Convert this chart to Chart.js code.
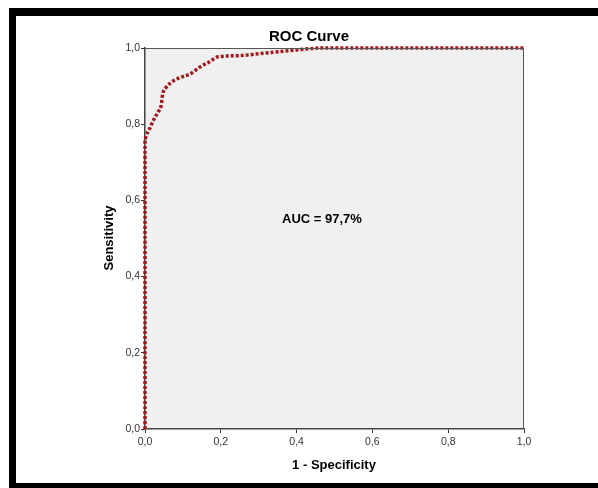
<!DOCTYPE html>
<html><head><meta charset="utf-8">
<script src="https://cdn.jsdelivr.net/npm/chart.js@4/dist/chart.umd.min.js"></script>
<style>html,body{margin:0;padding:0;background:#fff}canvas{display:block}</style>
</head><body>
<canvas id="c" width="598" height="488"></canvas>
<script>
const specificityComplement = [0, 0, 0.003, 0.013, 0.022, 0.035, 0.042, 0.047, 0.057, 0.079, 0.1, 0.119, 0.145, 0.172, 0.193, 0.25, 0.3, 0.35, 0.4, 0.47, 1.0];
const sensitivity =           [0, 0.76, 0.77, 0.79, 0.81, 0.833, 0.846, 0.88, 0.898, 0.916, 0.925, 0.932, 0.95, 0.965, 0.977, 0.98, 0.985, 0.99, 0.995, 1.0, 1.0];
const tickValues = [0, 0.2, 0.4, 0.6, 0.8, 1.0];
const titleText = 'ROC Curve';
const xTitle = '1 - Specificity';
const yTitle = 'Sensitivity';
const aucText = 'AUC = 97,7%';
const aucPos = {x: 0.467, y: 0.549};

const fmt = v => (Math.round(v*10)/10).toFixed(1).replace('.', ',');
const FONT = '"Liberation Sans", Arial, sans-serif';

const decor = {
  id: 'decor',
  beforeDraw(chart) {
    const {ctx, chartArea: a} = chart;
    ctx.save();
    ctx.fillStyle = '#fff';
    ctx.fillRect(0, 0, chart.width, chart.height);
    ctx.fillStyle = '#f0f0f0';
    ctx.fillRect(a.left, a.top, a.right - a.left, a.bottom - a.top);
    ctx.restore();
  },
  afterDraw(chart) {
    const {ctx, chartArea: a, scales} = chart;
    ctx.save();
    ctx.strokeStyle = '#555';
    ctx.lineWidth = 1;
    ctx.beginPath();
    ctx.moveTo(a.left, a.top + 0.5); ctx.lineTo(a.right - 0.5, a.top + 0.5); ctx.lineTo(a.right - 0.5, a.bottom);
    ctx.stroke();
    // frame
    ctx.fillStyle = '#000';
    ctx.fillRect(9, 8, 589, 8);
    ctx.fillRect(9, 8, 7, 480);
    ctx.fillRect(9, 483, 589, 5);
    ctx.fillStyle = '#000';
    ctx.textAlign = 'center';
    ctx.textBaseline = 'middle';
    ctx.font = 'bold 15px ' + FONT;
    ctx.fillText(titleText, 309, 37);
    ctx.font = 'bold 13px ' + FONT;
    ctx.fillText(xTitle, 334, 465);
    ctx.fillText(aucText, scales.x.getPixelForValue(aucPos.x), scales.y.getPixelForValue(aucPos.y));
    ctx.translate(109, 238);
    ctx.rotate(-Math.PI / 2);
    ctx.fillText(yTitle, 0, 0);
    ctx.restore();
  }
};

new Chart(document.getElementById('c'), {
  type: 'scatter',
  data: {
    datasets: [{
      data: specificityComplement.map((x, i) => ({x, y: sensitivity[i]})),
      showLine: true,
      borderColor: '#a01a1e',
      borderWidth: 3.5,
      borderDash: [3, 2],
      pointRadius: 0,
      fill: false,
      cubicInterpolationMode: 'monotone',
      clip: false
    }]
  },
  options: {
    responsive: false,
    animation: false,
    devicePixelRatio: 1,
    layout: {padding: {top: 48, right: 74, left: 0, bottom: 0}},
    plugins: {legend: {display: false}, tooltip: {enabled: false}},
    scales: {
      x: {
        type: 'linear', min: 0, max: 1,
        afterBuildTicks: s => { s.ticks = tickValues.map(v => ({value: v})); },
        afterFit: s => { s.height = 59; },
        grid: {drawOnChartArea: false, tickLength: 4, tickColor: '#333', tickWidth: 1},
        border: {color: '#444', width: 1.5},
        ticks: {callback: v => fmt(v), color: '#333', font: {family: FONT, size: 10.5}, padding: 3, maxRotation: 0}
      },
      y: {
        type: 'linear', min: 0, max: 1,
        afterBuildTicks: s => { s.ticks = tickValues.map(v => ({value: v})); },
        afterFit: s => { s.width = 145; },
        grid: {drawOnChartArea: false, tickLength: 4, tickColor: '#333', tickWidth: 1},
        border: {color: '#444', width: 1.5},
        ticks: {callback: v => fmt(v), color: '#333', font: {family: FONT, size: 10.5}, padding: 1}
      }
    }
  },
  plugins: [decor]
});
</script>
</body></html>
